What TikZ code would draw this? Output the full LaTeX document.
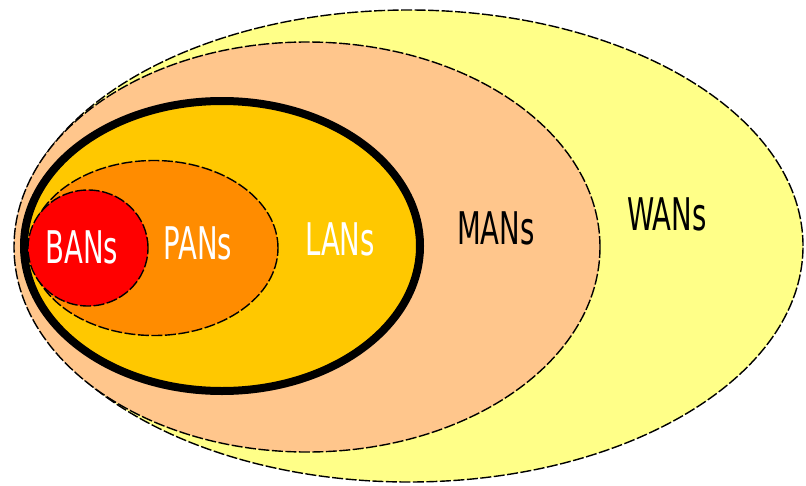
\documentclass[tikz,border=0pt]{standalone}
\usepackage{fontspec}
\newfontfamily\netfont{DejaVu Sans Condensed}[FakeStretch=0.68]
\usetikzlibrary{shapes.geometric}

\definecolor{wancol}{RGB}{255,255,136}
\definecolor{mancol}{RGB}{255,198,140}
\definecolor{lancol}{RGB}{255,200,0}
\definecolor{pancol}{RGB}{255,140,0}
\definecolor{bancol}{RGB}{255,0,0}

\begin{document}
\begin{tikzpicture}[
  x=1pt, y=-1pt,
  area/.style={ellipse, draw, inner sep=0pt, line width=1.4pt,
    dash pattern=on 11pt off 2.5pt},
  nettext/.style={font=\netfont\fontsize{45}{45}\selectfont, inner sep=0pt}
]
  \useasboundingbox (0,0) rectangle (806,485);

  % nested areas, largest first
  \node[area, fill=wancol, minimum width=788pt, minimum height=472pt] (wan) at (409,246) {};
  \node[area, fill=mancol, minimum width=586pt, minimum height=410pt] (man) at (307,247) {};
  \node[area, fill=lancol, solid, line width=8pt, minimum width=396pt, minimum height=290pt] (lan) at (222,246) {};
  \node[area, fill=pancol, minimum width=248pt, minimum height=175pt] (pan) at (154,248) {};
  \node[area, fill=bancol, minimum width=120pt, minimum height=116pt] (ban) at (88,248) {};

  % labels
  \node[nettext, text=white] (bant) at (82,247) {BANs};
  \node[nettext, text=white] (pant) at (198,243) {PANs};
  \node[nettext, text=white] (lant) at (340,239) {LANs};
  \node[nettext] (mant) at (496,228) {MANs};
  \node[nettext] (want) at (667,214) {WANs};
\end{tikzpicture}
\end{document}
